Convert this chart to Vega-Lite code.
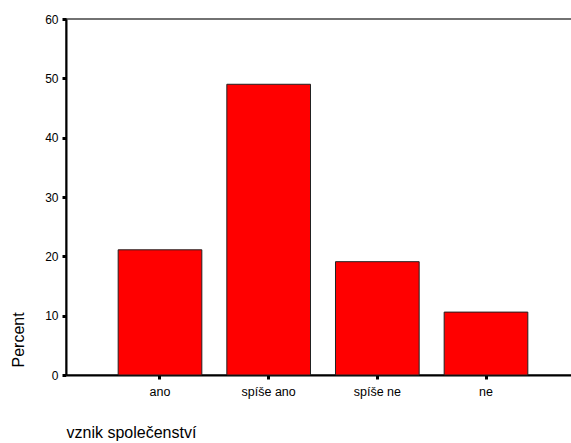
{
  "$schema": "https://vega.github.io/schema/vega-lite/v6.json",
  "autosize": "none",
  "width": 514,
  "height": 356,
  "padding": {"left": 66, "top": 19, "right": 0, "bottom": 68},
  "background": "white",
  "config": {
    "font": "Liberation Sans",
    "view": {"stroke": "#444444", "strokeWidth": 1.5},
    "axis": {"grid": false, "domainColor": "black", "domainWidth": 2, "tickColor": "black", "labelColor": "black", "titleColor": "black", "labelFont": "Liberation Sans", "titleFont": "Liberation Sans", "titleFontWeight": "normal"}
  },
  "data": {"values": [
    {"category": "ano", "percent": 21.1},
    {"category": "spíše ano", "percent": 49.0},
    {"category": "spíše ne", "percent": 19.1},
    {"category": "ne", "percent": 10.6}
  ]},
  "mark": {"type": "bar", "color": "#ff0000", "stroke": "#222222", "strokeWidth": 1},
  "encoding": {
    "x": {
      "field": "category", "type": "nominal", "sort": null,
      "scale": {"paddingInner": 0.23, "paddingOuter": 0.48},
      "axis": {"title": "vznik společenství", "labelAngle": 0, "labelFontSize": 12.5, "titleFontSize": 16, "tickSize": 4, "tickWidth": 3, "labelPadding": 6, "titleAnchor": "start", "titleAlign": "left", "titleX": 0, "titleY": 62, "titleBaseline": "alphabetic"}
    },
    "y": {
      "field": "percent", "type": "quantitative",
      "scale": {"domain": [0, 60], "nice": false},
      "axis": {"title": "Percent", "values": [0, 10, 20, 30, 40, 50, 60], "labelFontSize": 12, "titleFontSize": 16, "tickSize": 4, "tickWidth": 3, "labelPadding": 4, "titleAnchor": "start", "titleAlign": "left", "titleX": -43, "titleY": 348, "titleBaseline": "alphabetic", "titleAngle": 270}
    }
  }
}
